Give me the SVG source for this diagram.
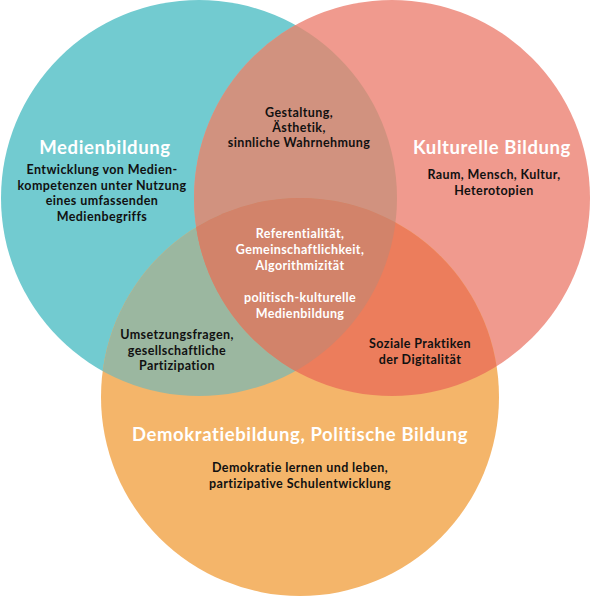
<svg xmlns="http://www.w3.org/2000/svg" width="591" height="596" viewBox="0 0 591 596">
<style>
text{font-family:Lato,"Noto Sans","Liberation Sans",sans-serif;text-anchor:middle;font-weight:700}
.t{fill:#fff;font-size:18.5px;letter-spacing:0.6px}
.s{fill:#111;font-size:12.5px;letter-spacing:0.4px}
.w{fill:#fff;font-size:12.5px;letter-spacing:0.4px}
</style>
<defs>
<clipPath id="cT"><circle cx="199" cy="198" r="198"/></clipPath>
<clipPath id="cR"><circle cx="392" cy="198" r="198"/></clipPath>
</defs>
<rect width="591" height="596" fill="#fff"/>
<g id="circles">
<circle id="medien" cx="199" cy="198" r="198" fill="#72CBD0"/>
<circle id="kultur" cx="392" cy="198" r="198" fill="#F09A8E"/>
<circle id="demokratie" cx="300" cy="397" r="199" fill="#F4B56A"/>
<circle cx="392" cy="198" r="198" fill="#D1927F" clip-path="url(#cT)"/>
<circle cx="300" cy="397" r="199" fill="#9BB7A0" clip-path="url(#cT)"/>
<circle cx="300" cy="397" r="199" fill="#EC7D5C" clip-path="url(#cR)"/>
<g clip-path="url(#cT)"><circle cx="300" cy="397" r="199" fill="#D2836A" clip-path="url(#cR)"/></g>
</g>
<g id="node-medienbildung">
<text class="t" x="105" y="154">Medienbildung</text>
<text class="s" x="102" y="174">Entwicklung von Medien-</text>
<text class="s" x="102" y="189.5">kompetenzen unter Nutzung</text>
<text class="s" x="102" y="205">eines umfassenden</text>
<text class="s" x="102" y="220.5">Medienbegriffs</text>
</g>
<g id="node-kulturelle">
<text class="t" x="492" y="154">Kulturelle Bildung</text>
<text class="s" x="494" y="179">Raum, Mensch, Kultur,</text>
<text class="s" x="494" y="194.5">Heterotopien</text>
</g>
<g id="node-demokratie">
<text class="t" x="300" y="441">Demokratiebildung, Politische Bildung</text>
<text class="s" x="300" y="472">Demokratie lernen und leben,</text>
<text class="s" x="300" y="487.5">partizipative Schulentwicklung</text>
</g>
<g id="node-gestaltung">
<text class="s" x="299" y="116.5">Gestaltung,</text>
<text class="s" x="299" y="131.5">Ästhetik,</text>
<text class="s" x="299" y="146.5">sinnliche Wahrnehmung</text>
</g>
<g id="node-center">
<text class="w" x="300" y="237.5">Referentialität,</text>
<text class="w" x="300" y="253.5">Gemeinschaftlichkeit,</text>
<text class="w" x="300" y="269.5">Algorithmizität</text>
<text class="w" x="300" y="301.5">politisch-kulturelle</text>
<text class="w" x="300" y="317.5">Medienbildung</text>
</g>
<g id="node-umsetzung">
<text class="s" x="177" y="339">Umsetzungsfragen,</text>
<text class="s" x="177" y="354.5">gesellschaftliche</text>
<text class="s" x="177" y="370">Partizipation</text>
</g>
<g id="node-soziale">
<text class="s" x="420" y="348">Soziale Praktiken</text>
<text class="s" x="420" y="363.5">der Digitalität</text>
</g>
</svg>
